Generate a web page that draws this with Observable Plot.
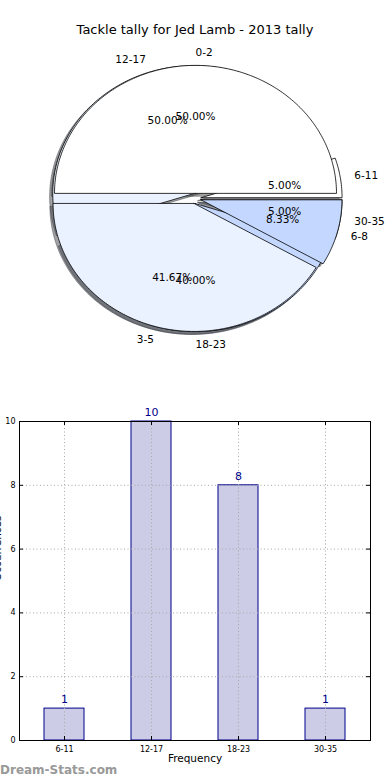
<!DOCTYPE html>
<html><head><meta charset="utf-8">
<script src="https://cdn.jsdelivr.net/npm/d3@7"></script>
<script src="https://cdn.jsdelivr.net/npm/@observablehq/plot@0.6"></script>
<style>
body{margin:0;background:#fff;font-family:"DejaVu Sans",sans-serif;}
#wrap{position:relative;width:390px;height:780px;overflow:hidden;background:#fff;}
#title{position:absolute;top:21px;left:0;width:390px;text-align:center;font-size:13px;color:#000;line-height:18px;}
#pie{position:absolute;left:0;top:0;}
#bar{position:absolute;left:0;top:380px;}
#wm{position:absolute;left:0;top:762px;font-size:12px;color:#999;font-weight:bold;line-height:16px;}
</style></head><body>
<div id="wrap"><div id="pie"></div><div id="bar"></div><div id="title">Tackle tally for Jed Lamb - 2013 tally</div><div id="wm">Dream-Stats.com</div></div>
<script>
// ---- data ----
const pieALabels = ["0-2", "3-5", "6-8"];
const pieAValues = [6, 5, 1];
const pieBLabels = ["6-11", "12-17", "18-23", "30-35"];
const pieBValues = [1, 10, 8, 1];
const pieColors = ["#ffffff", "#eaf1ff", "#c4d8ff"];
const barCategories = ["6-11", "12-17", "18-23", "30-35"];
const barValues = [1, 10, 8, 1];
const yTicks = [0, 2, 4, 6, 8, 10];
const chartTitle = "Tackle tally for Jed Lamb - 2013 tally";
const xLabel = "Frequency";
const yLabel = "Occurrences";

// ---- pie geometry (matplotlib-style: start at 3 o'clock, counter-clockwise) ----
const explode = 0.04, shadowOff = -0.022;
function wedges(labels, values, pie) {
  const total = d3.sum(values);
  let acc = 0;
  return labels.map((label, i) => {
    const t0 = acc / total * 2 * Math.PI; acc += values[i];
    const t1 = acc / total * 2 * Math.PI;
    const mid = (t0 + t1) / 2;
    return {pie, label, pct: values[i] / total * 100, t0, t1, mid,
      cx: explode * Math.cos(mid), cy: explode * Math.sin(mid),
      color: pieColors[i % pieColors.length]};
  });
}
function shade(c) {
  const r = d3.rgb(c);
  return d3.rgb(r.r * 0.3, r.g * 0.3, r.b * 0.3).formatHex();
}
function polygon(w, dx, dy, id, color) {
  const pts = [{id, x: w.cx + dx, y: w.cy + dy, color}];
  const n = Math.max(2, Math.ceil((w.t1 - w.t0) / (Math.PI / 180)));
  for (let k = 0; k <= n; k++) {
    const t = w.t0 + (w.t1 - w.t0) * k / n;
    pts.push({id, x: w.cx + dx + Math.cos(t), y: w.cy + dy + Math.sin(t), color});
  }
  pts.push({...pts[0]});
  return pts;
}
const wA = wedges(pieALabels, pieAValues, "A");
const wB = wedges(pieBLabels, pieBValues, "B");
const all = [...wB, ...wA];
const shadowPts = all.flatMap((w, i) => polygon(w, shadowOff, shadowOff, "s" + i, shade(w.color)));
const wedgeBPts = wB.flatMap((w, i) => polygon(w, 0, 0, "b" + i, w.color));
const wedgeAPts = wA.flatMap((w, i) => polygon(w, 0, 0, "a" + i, w.color));
const labelPos = all.map(w => ({
  label: w.label,
  x: w.cx + 1.1 * Math.cos(w.mid), y: w.cy + 1.1 * Math.sin(w.mid),
  left: Math.cos(w.mid) > -1e-6
}));
const pctPos = all.map(w => ({
  text: w.pct.toFixed(2) + "%",
  x: w.cx + 0.6 * Math.cos(w.mid), y: w.cy + 0.6 * Math.sin(w.mid)
}));

const pie = Plot.plot({
  width: 390, height: 380,
  marginLeft: 54, marginRight: 54, marginTop: 70, marginBottom: 54,
  x: {domain: [-1, 1], axis: null},
  y: {domain: [-1, 1], axis: null},
  color: {type: "identity"},
  style: {fontFamily: "DejaVu Sans", fontSize: "10.5px", background: "transparent", overflow: "visible"},
  marks: [
    Plot.line(shadowPts, {x: "x", y: "y", z: "id", fill: "color", stroke: "color", fillOpacity: 0.5, strokeOpacity: 0.5, strokeWidth: 1, curve: "linear"}),
    Plot.line(wedgeBPts, {x: "x", y: "y", z: "id", fill: "color", stroke: "black", strokeWidth: 0.8, curve: "linear"}),
    Plot.line(wedgeAPts, {x: "x", y: "y", z: "id", fill: "color", stroke: "black", strokeWidth: 0.8, curve: "linear"}),
    Plot.text(labelPos.filter(d => d.left), {x: "x", y: "y", text: "label", textAnchor: "start", fill: "black"}),
    Plot.text(labelPos.filter(d => !d.left), {x: "x", y: "y", text: "label", textAnchor: "end", fill: "black"}),
    Plot.text(pctPos, {x: "x", y: "y", text: "text", fill: "black"})
  ]
});
document.getElementById("pie").appendChild(pie);
document.getElementById("title").textContent = chartTitle;

// ---- bar chart ----
const bars = barCategories.map((c, i) => ({cat: c, value: barValues[i]}));
const frameW = 390 - 19 - 20, frameH = 400 - 41 - 40, tickLen = 4;
const bar = Plot.plot({
  width: 390, height: 400,
  marginTop: 41, marginBottom: 40, marginLeft: 19, marginRight: 20,
  style: {fontFamily: "DejaVu Sans", fontSize: "8px", background: "transparent", overflow: "visible"},
  x: {type: "band", domain: barCategories, paddingInner: 0.544, paddingOuter: 0.272, label: null, tickSize: 0, tickPadding: 6},
  y: {domain: [0, 10], ticks: yTicks, label: null, tickSize: 0, tickPadding: 4},
  marks: [
    Plot.barY(bars, {x: "cat", y: "value", fill: "#cccce6", stroke: "#00008b", strokeWidth: 1}),
    Plot.ruleY(yTicks, {y: d => d, stroke: "#a8a8a8", strokeDasharray: "1,2.5", strokeWidth: 1}),
    Plot.ruleX(barCategories, {x: d => d, stroke: "#a8a8a8", strokeDasharray: "1,2.5", strokeWidth: 1}),
    Plot.ruleY(yTicks, {y: d => d, stroke: "black", insetRight: frameW - tickLen}),
    Plot.ruleY(yTicks, {y: d => d, stroke: "black", insetLeft: frameW - tickLen}),
    Plot.ruleX(barCategories, {x: d => d, stroke: "black", insetTop: frameH - tickLen}),
    Plot.ruleX(barCategories, {x: d => d, stroke: "black", insetBottom: frameH - tickLen}),
    Plot.frame({stroke: "black", strokeWidth: 1}),
    Plot.text(bars, {x: "cat", y: "value", text: d => String(d.value), dy: -9, fill: "#00008b", fontSize: 11}),
    Plot.text([xLabel], {frameAnchor: "bottom", dy: 21, text: d => d, fontSize: 10.5, fill: "black"}),
    Plot.text([yLabel], {frameAnchor: "left", dx: -22, rotate: -90, text: d => d, fontSize: 10.5, fill: "black"})
  ]
});
document.getElementById("bar").appendChild(bar);
</script>
</body></html>
